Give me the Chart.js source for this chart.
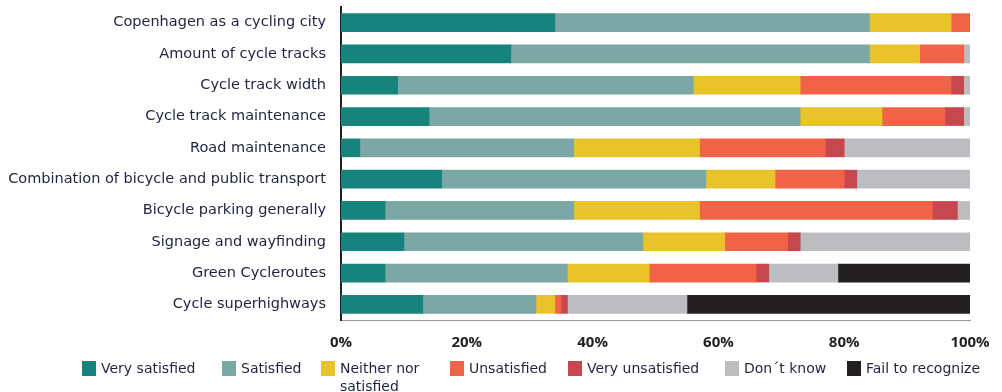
<!DOCTYPE html>
<html>
<head>
<meta charset="utf-8">
<script src="https://cdn.jsdelivr.net/npm/chart.js@4"></script>
<style>
  body { margin: 0; background: #fff; }
  #wrap { width: 1002px; height: 392px; }
</style>
</head>
<body>
<div id="wrap"><canvas id="bar-chart"></canvas></div>
<script>
const categories = [
  "Copenhagen as a cycling city",
  "Amount of cycle tracks",
  "Cycle track width",
  "Cycle track maintenance",
  "Road maintenance",
  "Combination of bicycle and public transport",
  "Bicycle parking generally",
  "Signage and wayfinding",
  "Green Cycleroutes",
  "Cycle superhighways"
];

const verySatisfied   = [34, 27,  9, 14,  3, 16,  7, 10,  7, 13];
const satisfied       = [50, 57, 47, 59, 34, 42, 30, 38, 29, 18];
const neither         = [13,  8, 17, 13, 20, 11, 20, 13, 13,  3];
const unsatisfied     = [ 3,  7, 24, 10, 20, 11, 37, 10, 17,  1];
const veryUnsatisfied = [ 0,  0,  2,  3,  3,  2,  4,  2,  2,  1];
const dontKnow        = [ 0,  1,  1,  1, 20, 18,  2, 27, 11, 19];
const failToRecognize = [ 0,  0,  0,  0,  0,  0,  0,  0, 21, 45];

const seriesNames = ["Very satisfied", "Satisfied", "Neither nor\nsatisfied", "Unsatisfied", "Very unsatisfied", "Don\u00b4t know", "Fail to recognize"];
const seriesColors = ["#16837d", "#7ba7a5", "#e8c329", "#f16346", "#c6474e", "#bcbdc0", "#231f20"];
const xTicks = [0, 20, 40, 60, 80, 100];

// legend item left edges
const legendX = [82, 222, 321, 450, 568, 725, 847];

const allSeries = [verySatisfied, satisfied, neither, unsatisfied, veryUnsatisfied, dontKnow, failToRecognize];

const labelFont = "'DejaVu Sans', sans-serif";
const tickFont = "'Open Sans', sans-serif";

const legendPlugin = {
  id: 'bottomLegend',
  afterDraw(chart) {
    const ctx = chart.ctx;
    ctx.save();
    ctx.font = "14px " + labelFont;
    ctx.textBaseline = 'middle';
    ctx.textAlign = 'left';
    chart.data.datasets.forEach(function(ds, i) {
      const x = legendX[i];
      ctx.fillStyle = ds.backgroundColor;
      ctx.fillRect(x, 361, 14, 15);
      ctx.fillStyle = '#1f2340';
      ds.label.split('\n').forEach(function(line, j) {
        ctx.fillText(line, x + 19, 369 + j * 18);
      });
    });
    ctx.restore();
  }
};

new Chart(document.getElementById("bar-chart"), {
  type: 'bar',
  data: {
    labels: categories,
    datasets: allSeries.map(function(vals, i) {
      return {
        label: seriesNames[i],
        data: vals,
        backgroundColor: seriesColors[i],
        barThickness: 18
      };
    })
  },
  options: {
    indexAxis: 'y',
    responsive: true,
    maintainAspectRatio: false,
    animation: false,
    layout: { padding: { top: 7, right: 32, left: 0, bottom: 0 } },
    plugins: {
      legend: { display: false },
      tooltip: { enabled: false }
    },
    scales: {
      x: {
        stacked: true,
        min: 0,
        max: 100,
        afterBuildTicks: function(scale) {
          scale.ticks = xTicks.map(function(v) { return { value: v }; });
        },
        afterFit: function(scale) {
          scale.height = 72;
          scale.paddingLeft = 0;
          scale.paddingRight = 0;
        },
        grid: { display: false, drawTicks: false },
        border: { display: true, color: '#9a9a9a', width: 1 },
        ticks: {
          padding: 14,
          color: '#231f20',
          font: { family: tickFont, size: 15, weight: 'bold' },
          callback: function(v) { return v + '%'; }
        }
      },
      y: {
        stacked: true,
        afterFit: function(scale) {
          scale.width = 341;
          scale.paddingTop = 0;
          scale.paddingBottom = 0;
        },
        grid: { display: false, drawTicks: false },
        border: { display: true, color: '#231f20', width: 2 },
        ticks: {
          padding: 15,
          color: '#1f2340',
          font: { family: labelFont, size: 14.5 }
        }
      }
    }
  },
  plugins: [legendPlugin]
});
</script>
</body>
</html>
